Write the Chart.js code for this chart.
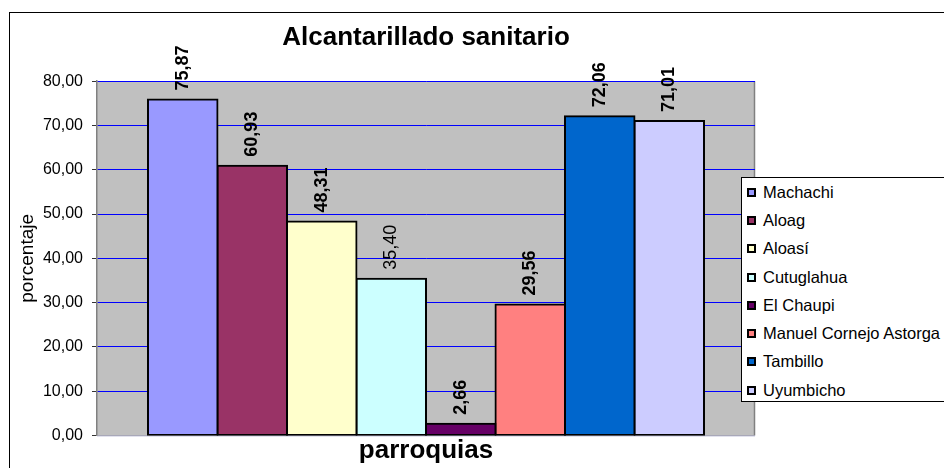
<!DOCTYPE html>
<html><head><meta charset="utf-8">
<script src="https://cdn.jsdelivr.net/npm/chart.js@4.4.0/dist/chart.umd.min.js"></script>
<style>
html,body{margin:0;padding:0;background:#fff;}
#wrap{position:relative;width:944px;height:468px;overflow:hidden;}
#frame{position:absolute;left:9px;top:12px;right:-10px;bottom:-10px;border-left:1px solid #000;border-top:1px solid #000;}
canvas{position:absolute;left:0;top:0;}
#legend{position:absolute;left:741px;top:177px;width:215px;height:225px;border:1px solid #000;background:#fff;box-sizing:border-box;padding-top:0;font-family:"Liberation Sans",Arial,sans-serif;font-size:16.5px;color:#000;}
#legend .item{height:28.3px;display:flex;align-items:center;white-space:nowrap;}
#legend .sw{width:5px;height:5px;border:2px solid #000;margin-left:5px;margin-right:7px;flex:none;}
</style></head>
<body><div id="wrap"><div id="frame"></div><canvas id="c" width="944" height="468"></canvas><div id="legend"></div></div>
<script>
const chartTitle = 'Alcantarillado sanitario';
const xAxisTitle = 'parroquias';
const yAxisTitle = 'porcentaje';
const parroquias = ['Machachi', 'Aloag', 'Aloasí', 'Cutuglahua', 'El Chaupi', 'Manuel Cornejo Astorga', 'Tambillo', 'Uyumbicho'];
const porcentajes = [75.87, 60.93, 48.31, 35.40, 2.66, 29.56, 72.06, 71.01];
const yTicks = [0, 10, 20, 30, 40, 50, 60, 70, 80];
const barColors = ['#9999FF', '#993366', '#FFFFCC', '#CCFFFF', '#660066', '#FF8080', '#0066CC', '#CCCCFF'];
const normalWeightLabels = ['Cutuglahua'];

const FONT = '"Liberation Sans", Arial, sans-serif';
Chart.defaults.font.family = FONT;
Chart.defaults.color = '#000';

const fmt = v => Number(v).toFixed(2).replace('.', ',');

const plotBg = {
  id: 'plotBg',
  beforeDraw(chart) {
    const {ctx, chartArea: {left, top, right, bottom}} = chart;
    ctx.save();
    ctx.fillStyle = '#c0c0c0';
    ctx.fillRect(left, top, right - left, bottom - top);
    ctx.strokeStyle = '#808080';
    ctx.lineWidth = 1.5;
    ctx.beginPath();
    ctx.moveTo(right - 0.5, top);
    ctx.lineTo(right - 0.5, bottom);
    ctx.stroke();
    ctx.strokeStyle = '#d8d8e8';
    ctx.beginPath();
    ctx.moveTo(left, bottom + 0.5);
    ctx.lineTo(right, bottom + 0.5);
    ctx.stroke();
    ctx.restore();
  }
};

const barLabels = {
  id: 'barLabels',
  afterDatasetsDraw(chart) {
    const ctx = chart.ctx;
    chart.data.datasets.forEach((ds, i) => {
      const meta = chart.getDatasetMeta(i);
      if (meta.hidden) return;
      meta.data.forEach((bar, j) => {
        ctx.save();
        ctx.translate(bar.x, bar.y - 9);
        ctx.rotate(-Math.PI / 2);
        ctx.font = (normalWeightLabels.includes(ds.label) ? 'normal ' : 'bold ') + '18px ' + FONT;
        ctx.fillStyle = '#000';
        ctx.textAlign = 'left';
        ctx.textBaseline = 'middle';
        ctx.fillText(fmt(ds.data[j]), 0, 0);
        ctx.restore();
      });
    });
  }
};

const chart = new Chart(document.getElementById('c'), {
  type: 'bar',
  data: {
    labels: [xAxisTitle],
    datasets: parroquias.map((p, i) => ({
      label: p,
      data: [porcentajes[i]],
      backgroundColor: barColors[i],
      borderColor: '#000',
      borderWidth: 2,
      borderSkipped: false,
      inflateAmount: 1,
      barPercentage: 1,
      categoryPercentage: 0.845
    }))
  },
  options: {
    responsive: false,
    animation: false,
    layout: {padding: {left: 10, top: 12, right: 189, bottom: 0}},
    plugins: {
      legend: {display: false},
      tooltip: {enabled: false},
      title: {
        display: true, text: chartTitle, fullSize: false, color: '#000',
        font: {size: 26, weight: 'bold'}, padding: {top: 10, bottom: 28}
      }
    },
    scales: {
      x: {
        grid: {display: false},
        border: {display: false},
        ticks: {display: false},
        title: {display: true, text: xAxisTitle, color: '#000', font: {size: 26, weight: 'bold'}, padding: {top: 0, bottom: 2}},
        afterFit(scale) { scale.height = 32.5; }
      },
      y: {
        min: 0, max: 80,
        afterBuildTicks(scale) { scale.ticks = yTicks.map(v => ({value: v})); },
        ticks: {font: {size: 16}, color: '#000', padding: 9, callback: v => fmt(v)},
        grid: {
          color: c => (c.tick && c.tick.value === 0) ? '#a8a8b8' : '#0000ff',
          tickColor: '#333', tickLength: 5, lineWidth: 1
        },
        border: {display: true, color: '#808080', width: 1.5},
        title: {display: true, text: yAxisTitle, color: '#000', font: {size: 19}, padding: {top: 6, bottom: 0}},
        afterFit(scale) { scale.width = 87; }
      }
    }
  },
  plugins: [plotBg, barLabels]
});

// legend built from the chart's own legend items
const legendEl = document.getElementById('legend');
chart.options.plugins.legend.labels.generateLabels(chart).forEach(item => {
  const row = document.createElement('div');
  row.className = 'item';
  const sw = document.createElement('span');
  sw.className = 'sw';
  sw.style.background = item.fillStyle;
  const tx = document.createElement('span');
  tx.textContent = item.text;
  row.appendChild(sw);
  row.appendChild(tx);
  legendEl.appendChild(row);
});
</script>
</body></html>
